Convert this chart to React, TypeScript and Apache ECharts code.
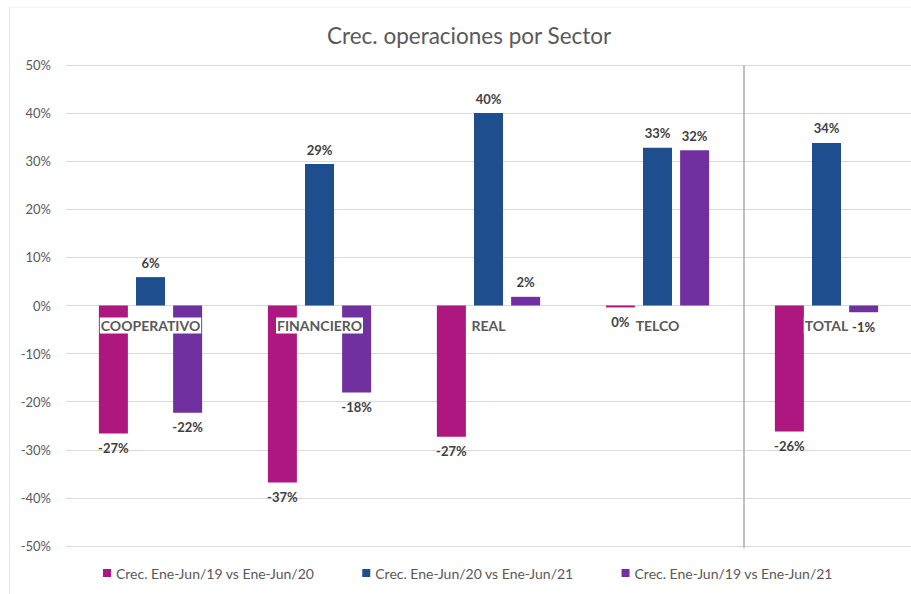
import React, { useEffect, useRef } from "react";
import * as echarts from "echarts";

const categories = ["COOPERATIVO", "FINANCIERO", "REAL", "TELCO", "TOTAL"];
const seriesNames = [
  "Crec. Ene-Jun/19 vs Ene-Jun/20",
  "Crec. Ene-Jun/20 vs Ene-Jun/21",
  "Crec. Ene-Jun/19 vs Ene-Jun/21",
];
const s19vs20 = [-26.6, -36.8, -27.3, -0.4, -26.2];
const s20vs21 = [5.9, 29.4, 40.0, 32.8, 33.8];
const s19vs21 = [-22.3, -18.1, 1.8, 32.3, -1.4];
const yTicks = { min: -50, max: 50, interval: 10 };
const colors = ["#AE1780", "#1F4E8E", "#7030A0"];

const FONT = "Lato, 'Noto Sans', sans-serif";

export default function App() {
  const ref = useRef<HTMLDivElement>(null);
  useEffect(() => {
    if (!ref.current) return;
    const chart = echarts.init(ref.current, null, { renderer: "svg" });
    const mk = (vals: number[]) =>
      vals.map((v) => ({
        value: v,
        label: { position: v < 0 ? "bottom" : "top" },
      }));
    const allSeries = [s19vs20, s20vs21, s19vs21].map((vals, i) => ({
      name: seriesNames[i],
      type: "bar",
      data: mk(vals),
      barWidth: 29,
      barGap: "28%",
      itemStyle: { color: colors[i] },
      label: {
        show: true,
        distance: 8,
        fontFamily: FONT,
        fontWeight: "bold",
        fontSize: 13,
        color: "#404040",
        formatter: (p: any) => `${Math.round(p.value)}%`,
      },
    }));
    const xAxisBase = {
      type: "category",
      data: categories,
      z: 5,
      axisLine: { show: false },
      axisTick: { show: false },
      axisLabel: {
        margin: 12,
        fontFamily: FONT,
        fontWeight: "bold",
        fontSize: 14,
        color: "#595959",
        backgroundColor: "#fff",
        padding: [1, 1],
      },
    };
    chart.setOption({
      animation: false,
      backgroundColor: "#fff",
      title: {
        text: "Crec. operaciones por Sector",
        left: 322,
        top: 19,
        textStyle: { fontFamily: FONT, fontWeight: "normal", fontSize: 22.5, color: "#595959" },
      },
      grid: { left: 66, right: 0, top: 65, bottom: 48, containLabel: false },
      legend: {
        bottom: 9,
        left: 98,
        itemWidth: 8,
        itemHeight: 8,
        itemGap: 48,
        icon: "rect",
        textStyle: { fontFamily: FONT, fontSize: 14, color: "#595959" },
        data: seriesNames,
      },
      xAxis: xAxisBase,
      yAxis: {
        type: "value",
        min: yTicks.min,
        max: yTicks.max,
        interval: yTicks.interval,
        axisLine: { show: false },
        axisTick: { show: false },
        splitLine: { lineStyle: { color: "#d9d9d9" } },
        axisLabel: {
          margin: 15,
          fontFamily: FONT,
          fontSize: 13,
          color: "#595959",
          formatter: (v: number) => `${v}%`,
        },
      },
      series: allSeries,
    });
    const xA = chart.convertToPixel({ xAxisIndex: 0 }, categories[3]) as number;
    const xB = chart.convertToPixel({ xAxisIndex: 0 }, categories[4]) as number;
    const yTop = chart.convertToPixel({ yAxisIndex: 0 }, yTicks.max) as number;
    const yBot = chart.convertToPixel({ yAxisIndex: 0 }, yTicks.min) as number;
    const yZero = chart.convertToPixel({ yAxisIndex: 0 }, 0) as number;
    const xSep = (xA + xB) / 2 + 2;
    chart.setOption({
      xAxis: { ...xAxisBase, offset: -(yBot - yZero) },
      graphic: [
        {
          type: "line",
          shape: { x1: xSep, y1: yTop, x2: xSep, y2: yBot + 2 },
          style: { stroke: "#bfbfbf", lineWidth: 2 },
          z: 1,
        },
        {
          type: "line",
          shape: { x1: 9.5, y1: 7, x2: 9.5, y2: 594 },
          style: { stroke: "#e6e6e6", lineWidth: 1 },
        },
        {
          type: "line",
          shape: { x1: 9.5, y1: 7.5, x2: 911, y2: 7.5 },
          style: { stroke: "#f2f2f2", lineWidth: 1 },
        },
      ],
    });
    return () => chart.dispose();
  }, []);
  return (
    <div
      ref={ref}
      style={{ position: "absolute", left: 0, top: 0, width: 911, height: 594 }}
    />
  );
}
